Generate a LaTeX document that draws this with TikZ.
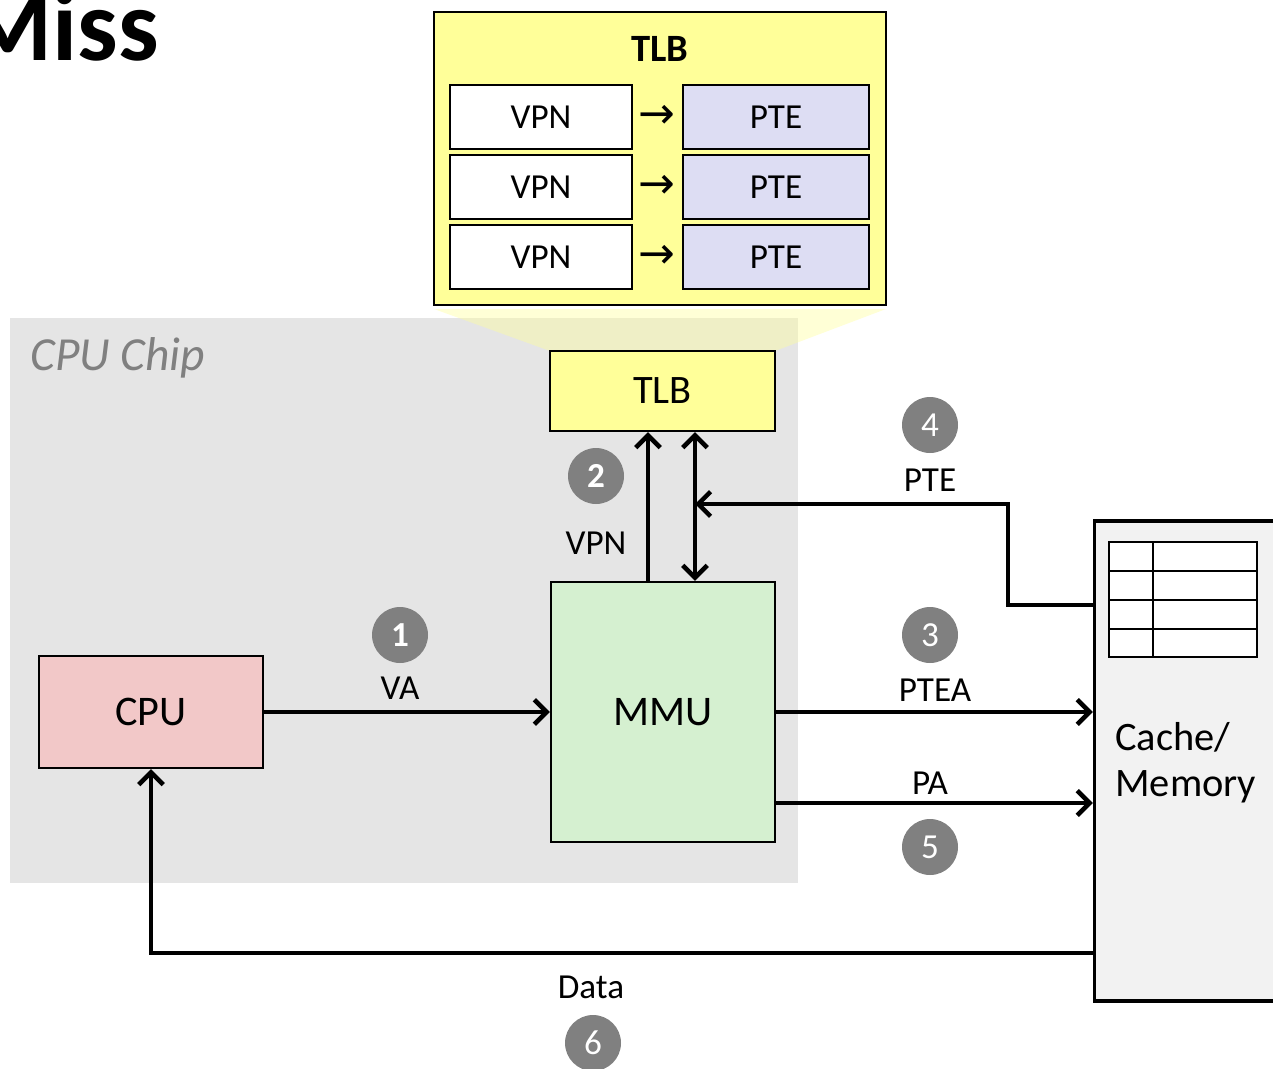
\documentclass[tikz,border=0pt]{standalone}
\usepackage{fontspec}
\setmainfont{Carlito}
\newfontfamily\symfont{DejaVu Sans}
\usetikzlibrary{arrows.meta,positioning}

\definecolor{tlbyellow}{HTML}{FFFF99}
\definecolor{ptelav}{HTML}{DDDDF3}
\definecolor{mmugreen}{HTML}{D5F0D0}
\definecolor{cpupink}{HTML}{F2C8C8}
\definecolor{chipgray}{HTML}{E5E5E5}
\definecolor{memgray}{HTML}{F2F2F2}
\definecolor{stepgray}{HTML}{808080}

\tikzset{
  box/.style={draw=black, line width=1.3pt, inner sep=0pt},
  barb/.tip={Straight Barb[length=7pt,width=14pt,line width=2.6pt]},
  conn/.style={line width=2.6pt, -barb},
  lbl/.style={font=\fontsize{20}{24}\selectfont, inner sep=0pt},
  stepnum/.style={circle, fill=stepgray, text=white, minimum size=1.12cm, inner sep=0pt,
    font=\fontsize{20}{24}\selectfont},
}

\begin{document}
\begin{tikzpicture}[x=0.02cm, y=-0.02cm]
    \useasboundingbox (0,0) rectangle (1273,1068);

    % Titel
    \node[anchor=base east, inner sep=0pt, font=\fontsize{58}{64}\bfseries] (title) at (159,61) {Miss};

    % CPU Chip
    \fill[chipgray] (10,318) rectangle (798,883);
    \node[anchor=west, text=stepgray, font=\fontsize{27}{32}\itshape\selectfont, inner sep=0pt] (chip) at (30,358) {CPU Chip};

    % TLB vergroot
    \node[box, fill=tlbyellow, minimum width=9.04cm, minimum height=5.86cm] (bigtlb) at (660,158.5) {};
    \node[font=\fontsize{22}{26}\bfseries\selectfont, inner sep=0pt] (bigtitle) at (660,49) {TLB};
    \foreach \r/\y in {1/117,2/187,3/257} {
      \node[box, fill=white, minimum width=3.64cm, minimum height=1.28cm, font=\fontsize{20}{24}\selectfont] (vpn\r) at (541,\y) {VPN};
      \node[box, fill=ptelav, minimum width=3.72cm, minimum height=1.28cm, font=\fontsize{20}{24}\selectfont] (pte\r) at (776,\y) {PTE};
      \node[inner sep=0pt, font=\symfont\fontsize{25}{28}\selectfont] (pijl\r) at (657,\y) {→};
    }
    % trechter
    \fill[tlbyellow, opacity=0.4] (434,309) -- (886,309) -- (775,351) -- (550,351) -- cycle;

    % blokken
    \node[box, fill=tlbyellow, minimum width=4.5cm, minimum height=1.6cm, font=\fontsize{23}{28}\selectfont] (tlb) at (662.5,391) {TLB};
    \node[box, fill=mmugreen, minimum width=4.48cm, minimum height=5.2cm, font=\fontsize{24}{28}\selectfont] (mmu) at (663,712) {MMU};
    \node[box, fill=cpupink, minimum width=4.48cm, minimum height=2.24cm, font=\fontsize{24}{28}\selectfont] (cpu) at (151,712) {CPU};
    \node[draw=black, line width=2pt, fill=memgray, minimum width=3.9cm, minimum height=9.6cm, inner sep=0pt] (mem) at (1192,761) {};
    \node[anchor=west, align=left, inner sep=0pt, font=\fontsize{23}{26}\selectfont] (memtxt) at (1115,763) {Cache/\\Memory};

    % tabel in geheugen
    \draw[line width=1.3pt, fill=white] (1109,542) rectangle (1257,657);
    \foreach \y in {571,600,629} \draw[line width=1.3pt] (1109,\y) -- (1257,\y);
    \draw[line width=1.3pt] (1153,542) -- (1153,657);

    % VA
    \draw[conn] (cpu.east) -- (mmu.west);
    \node[lbl] (va) at (400,688) {VA};
    \node[stepnum, font=\fontsize{20}{24}\bfseries\selectfont] (s1) at (400,635) {1};

    % VPN
    \draw[conn] ([xshift=-0.3cm]mmu.north) -- ([xshift=-0.3cm]mmu.north |- tlb.south);
    \node[lbl] (vpn) at (596,543) {VPN};
    \node[stepnum, font=\fontsize{20}{24}\bfseries\selectfont] (s2) at (596,476) {2};
    \draw[conn, barb-barb] ([xshift=0.64cm]mmu.north) -- ([xshift=0.64cm]mmu.north |- tlb.south);

    % PTE
    \coordinate (pteuit) at (1095,605);
    \coordinate (ptein) at (695,504);
    \draw[conn] (pteuit) -- (1008,605) -- (1008,504) -- (ptein);
    \node[lbl] (ptelbl) at (930,480) {PTE};
    \node[stepnum] (s4) at (930,425) {4};

    % PTEA
    \draw[conn] (mmu.east) -- (mmu.east -| mem.west);
    \node[lbl] (ptea) at (935,690) {PTEA};
    \node[stepnum] (s3) at (930,635) {3};

    % PA
    \draw[conn] ([yshift=-1.82cm]mmu.east) -- ([yshift=-1.82cm]mmu.east -| mem.west);
    \node[lbl] (pa) at (930,783) {PA};
    \node[stepnum] (s5) at (930,847) {5};

    % Data
    \coordinate (datauit) at (1095,953);
    \draw[conn] (datauit) -- (datauit -| cpu.south) -- (cpu.south);
    \node[lbl] (data) at (591,987) {Data};
    \node[stepnum] (s6) at (593,1043) {6};
\end{tikzpicture}
\end{document}
